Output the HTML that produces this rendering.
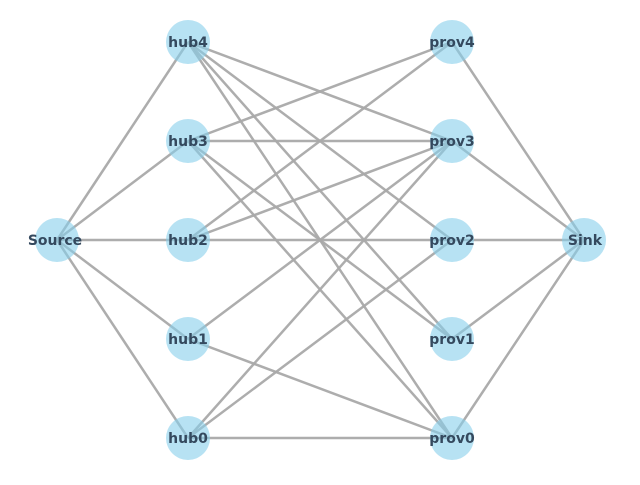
<!DOCTYPE html>
<html><head><style>html,body{margin:0;padding:0;background:#fff}</style></head><body>
<svg width="640" height="480" xmlns="http://www.w3.org/2000/svg">
<g stroke="#a9a9a9" stroke-width="2.5" stroke-opacity="0.95">
<line x1="57" y1="240" x2="188" y2="42"/><line x1="57" y1="240" x2="188" y2="141"/><line x1="57" y1="240" x2="188" y2="240"/><line x1="57" y1="240" x2="188" y2="339"/><line x1="57" y1="240" x2="188" y2="438"/>
<line x1="584" y1="240" x2="452" y2="42"/><line x1="584" y1="240" x2="452" y2="141"/><line x1="584" y1="240" x2="452" y2="240"/><line x1="584" y1="240" x2="452" y2="339"/><line x1="584" y1="240" x2="452" y2="438"/>
<line x1="188" y1="42" x2="452" y2="141"/><line x1="188" y1="42" x2="452" y2="240"/><line x1="188" y1="42" x2="452" y2="339"/><line x1="188" y1="42" x2="452" y2="438"/>
<line x1="188" y1="141" x2="452" y2="42"/><line x1="188" y1="141" x2="452" y2="141"/><line x1="188" y1="141" x2="452" y2="339"/><line x1="188" y1="141" x2="452" y2="438"/>
<line x1="188" y1="240" x2="452" y2="42"/><line x1="188" y1="240" x2="452" y2="141"/><line x1="188" y1="240" x2="452" y2="240"/>
<line x1="188" y1="339" x2="452" y2="141"/><line x1="188" y1="339" x2="452" y2="438"/>
<line x1="188" y1="438" x2="452" y2="141"/><line x1="188" y1="438" x2="452" y2="240"/><line x1="188" y1="438" x2="452" y2="438"/>
</g>
<g fill="#87ceeb" fill-opacity="0.6">
<circle cx="57" cy="240" r="22"/><circle cx="584" cy="240" r="22"/>
<circle cx="188" cy="42" r="22"/><circle cx="188" cy="141" r="22"/><circle cx="188" cy="240" r="22"/><circle cx="188" cy="339" r="22"/><circle cx="188" cy="438" r="22"/>
<circle cx="452" cy="42" r="22"/><circle cx="452" cy="141" r="22"/><circle cx="452" cy="240" r="22"/><circle cx="452" cy="339" r="22"/><circle cx="452" cy="438" r="22"/>
</g>
<g font-family="DejaVu Sans, Liberation Sans, sans-serif" font-weight="bold" font-size="14" fill="#34495e" text-anchor="middle" dominant-baseline="central">
<text x="55" y="241">Source</text><text x="585" y="241">Sink</text>
<text x="188" y="43">hub4</text><text x="188" y="142">hub3</text><text x="188" y="241">hub2</text><text x="188" y="340">hub1</text><text x="188" y="439">hub0</text>
<text x="452" y="43">prov4</text><text x="452" y="142">prov3</text><text x="452" y="241">prov2</text><text x="452" y="340">prov1</text><text x="452" y="439">prov0</text>
</g>
</svg>
</body></html>
